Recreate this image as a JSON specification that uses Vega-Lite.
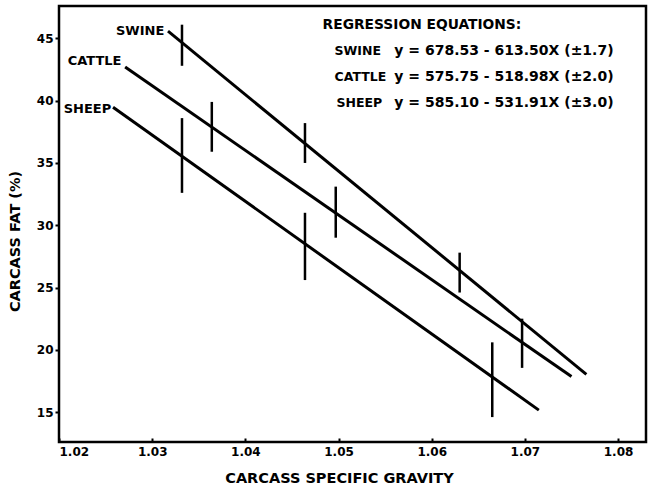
{
  "$schema": "https://vega.github.io/schema/vega-lite/v6.json",
  "width": 587,
  "height": 436,
  "autosize": {"type": "none"},
  "padding": {"left": 59, "top": 6, "right": 9, "bottom": 55},
  "background": "white",
  "config": {
    "view": {"stroke": "black", "strokeWidth": 2.5},
    "font": "DejaVu Sans",
    "axis": {
      "grid": false,
      "domain": false,
      "tickColor": "black",
      "tickWidth": 2,
      "labelColor": "black",
      "labelFont": "DejaVu Sans",
      "labelFontWeight": "bold",
      "labelFontSize": 12,
      "titleColor": "black",
      "titleFont": "DejaVu Sans",
      "titleFontWeight": "bold",
      "titleFontSize": 14.5
    }
  },
  "datasets": {
    "lines": [
      {"species": "SWINE", "x": 1.0317, "y": 45.58},
      {"species": "SWINE", "x": 1.0766, "y": 18.03},
      {"species": "CATTLE", "x": 1.0271, "y": 42.71},
      {"species": "CATTLE", "x": 1.0750, "y": 17.85},
      {"species": "SHEEP", "x": 1.0258, "y": 39.47},
      {"species": "SHEEP", "x": 1.0715, "y": 15.16}
    ],
    "bars": [
      {"species": "SWINE", "x": 1.0332, "lo": 42.8, "hi": 46.1},
      {"species": "SWINE", "x": 1.0464, "lo": 35.0, "hi": 38.2},
      {"species": "SWINE", "x": 1.0630, "lo": 24.6, "hi": 27.8},
      {"species": "CATTLE", "x": 1.0364, "lo": 35.9, "hi": 39.9},
      {"species": "CATTLE", "x": 1.0497, "lo": 29.0, "hi": 33.1},
      {"species": "CATTLE", "x": 1.0697, "lo": 18.55, "hi": 22.5},
      {"species": "SHEEP", "x": 1.0332, "lo": 32.6, "hi": 38.6},
      {"species": "SHEEP", "x": 1.0464, "lo": 25.6, "hi": 31.0},
      {"species": "SHEEP", "x": 1.0665, "lo": 14.6, "hi": 20.6}
    ],
    "labels": [
      {"label": "SWINE", "x": 1.0313, "y": 45.56},
      {"label": "CATTLE", "x": 1.0267, "y": 43.15},
      {"label": "SHEEP", "x": 1.0256, "y": 39.36}
    ],
    "eqtitle": [
      {"label": "REGRESSION EQUATIONS:", "x": 1.04829, "y": 46.04}
    ],
    "eqnames": [
      {"label": "SWINE", "x": 1.04957, "y": 43.96},
      {"label": "CATTLE", "x": 1.04957, "y": 41.87},
      {"label": "SHEEP", "x": 1.04979, "y": 39.78}
    ],
    "eqs": [
      {"label": "y = 678.53 - 613.50X (±1.7)", "x": 1.07952, "y": 43.96},
      {"label": "y = 575.75 - 518.98X (±2.0)", "x": 1.07952, "y": 41.87},
      {"label": "y = 585.10 - 531.91X (±3.0)", "x": 1.07952, "y": 39.78}
    ]
  },
  "layer": [
    {
      "data": {"name": "lines"},
      "mark": {"type": "line", "color": "black", "strokeWidth": 3},
      "encoding": {
        "x": {
          "field": "x", "type": "quantitative",
          "scale": {"domain": [1.02, 1.083], "nice": false, "zero": false},
          "axis": {
            "title": "CARCASS SPECIFIC GRAVITY",
            "values": [1.02, 1.03, 1.04, 1.05, 1.06, 1.07, 1.08],
            "format": ".2f",
            "tickSize": -4,
            "labelPadding": 8,
            "titlePadding": 14,
            "titleX": 280
          }
        },
        "y": {
          "field": "y", "type": "quantitative",
          "scale": {"domain": [12.6, 47.6], "nice": false, "zero": false},
          "axis": {
            "title": "CARCASS FAT (%)",
            "values": [15, 20, 25, 30, 35, 40, 45],
            "tickSize": 4,
            "labelPadding": 2,
            "titlePadding": 14,
            "titleY": 235
          }
        },
        "detail": {"field": "species"}
      }
    },
    {
      "data": {"name": "bars"},
      "mark": {"type": "rule", "color": "black", "strokeWidth": 2.5},
      "encoding": {
        "x": {"field": "x", "type": "quantitative"},
        "y": {"field": "lo", "type": "quantitative"},
        "y2": {"field": "hi"}
      }
    },
    {
      "data": {"name": "labels"},
      "mark": {"type": "text", "align": "right", "baseline": "middle", "fontWeight": "bold", "fontSize": 13, "color": "black", "font": "DejaVu Sans"},
      "encoding": {
        "x": {"field": "x", "type": "quantitative"},
        "y": {"field": "y", "type": "quantitative"},
        "text": {"field": "label"}
      }
    },
    {
      "data": {"name": "eqtitle"},
      "mark": {"type": "text", "align": "left", "baseline": "middle", "fontWeight": "bold", "fontSize": 13.8, "color": "black", "font": "DejaVu Sans"},
      "encoding": {
        "x": {"field": "x", "type": "quantitative"},
        "y": {"field": "y", "type": "quantitative"},
        "text": {"field": "label"}
      }
    },
    {
      "data": {"name": "eqnames"},
      "mark": {"type": "text", "align": "left", "baseline": "middle", "fontWeight": "bold", "fontSize": 12.5, "color": "black", "font": "DejaVu Sans"},
      "encoding": {
        "x": {"field": "x", "type": "quantitative"},
        "y": {"field": "y", "type": "quantitative"},
        "text": {"field": "label"}
      }
    },
    {
      "data": {"name": "eqs"},
      "mark": {"type": "text", "align": "right", "baseline": "middle", "fontWeight": "bold", "fontSize": 14, "color": "black", "font": "DejaVu Sans"},
      "encoding": {
        "x": {"field": "x", "type": "quantitative"},
        "y": {"field": "y", "type": "quantitative"},
        "text": {"field": "label"}
      }
    }
  ]
}
